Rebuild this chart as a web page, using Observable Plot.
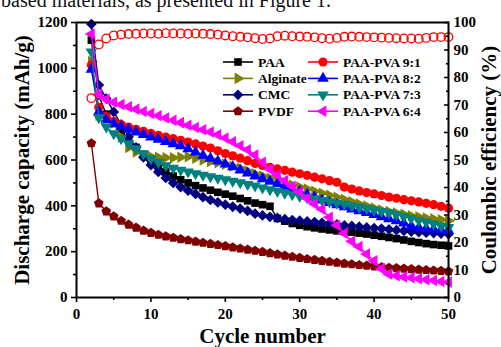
<!DOCTYPE html>
<html><head><meta charset="utf-8">
<script src="https://cdn.jsdelivr.net/npm/d3@7"></script>
<script src="https://cdn.jsdelivr.net/npm/@observablehq/plot@0.6"></script>
<style>
body{margin:0;background:#fff;}
#wrap{position:relative;width:501px;height:347px;overflow:hidden;background:#fff;}
#top{position:absolute;right:170px;top:-10px;font:20px/20px "Liberation Serif",serif;white-space:nowrap;color:#111;}
</style></head><body>
<div id="wrap"><div id="chart"></div><div id="top">based materials, as presented in Figure 1.</div></div>
<script>
const cycles = [2,3,4,5,6,7,8,9,10,11,12,13,14,15,16,17,18,19,20,21,22,23,24,25,26,27,28,29,30,31,32,33,34,35,36,37,38,39,40,41,42,43,44,45,46,47,48,49,50];
const paa = [1123,880,800,760,722,688,655,625,598,572,548,530,514,500,488,478,468,459,451,442,432,422,412,405,398,345,333,323,315,309,304,299,295,291,288,285,281,277,272,267,262,257,251,245,240,235,231,228,225];
const alginate = [1030,795,780,760,700,655,635,622,615,612,610,610,612,614,608,600,594,588,582,573,564,552,540,530,520,510,500,491,482,473,464,455,446,437,428,418,408,399,390,382,375,369,363,357,352,347,343,339,335];
const cmc = [1193,927,868,810,755,702,655,612,578,548,522,500,482,466,452,438,426,415,405,396,388,378,366,358,352,347,342,338,335,332,329,326,322,319,315,312,309,306,303,300,297,294,291,288,285,283,281,279,277];
const pvdf = [673,411,376,354,335,318,305,292,282,274,267,261,255,250,244,239,234,229,224,219,214,209,204,199,194,188,183,178,173,168,164,160,156,152,148,145,142,139,136,133,130,128,126,124,122,120,118,116,114];
const pvaa91 = [1015,830,790,768,755,744,734,725,716,708,700,693,686,678,670,661,652,640,628,618,608,597,585,576,568,561,555,547,540,533,525,518,510,503,482,473,465,458,452,445,438,433,427,422,417,411,405,398,390];
const pvaa82 = [995,810,775,758,745,733,722,711,700,690,680,670,661,648,634,620,607,595,582,570,556,543,530,518,507,496,485,474,463,450,438,425,414,404,395,386,378,370,362,352,343,334,324,312,305,301,298,295,292];
const pvaa73 = [1072,785,745,715,693,672,650,627,606,590,576,565,556,548,541,534,528,521,515,508,501,494,487,479,471,463,456,449,442,436,430,424,418,412,406,400,394,388,382,376,370,362,354,345,337,329,321,313,306];
const pvaa64 = [1150,885,865,852,842,832,822,812,803,793,783,773,763,752,742,732,722,710,696,680,662,645,622,590,560,535,510,485,460,432,408,385,350,315,280,245,222,190,160,125,102,95,90,86,82,78,74,70,67];
const ce91 = [72.5,92,94.2,95.3,95.6,95.8,95.9,96,96,95.9,96.1,96,96,95.9,96,95.9,95.8,95.6,95.3,95,94.8,94.6,94.3,94,94.2,95,95.2,95,94.9,94.8,94.6,94.3,94.1,94.4,94.8,94.9,94.8,94.7,94.6,94.5,94.4,94.3,94.2,94.2,94.1,94.4,94.7,94.7,94.7];

const seriesNames = ["PAA","Alginate","CMC","PVDF","PAA-PVA 9:1","PAA-PVA 8:2","PAA-PVA 7:3","PAA-PVA 6:4"];
const seriesValues = [paa, alginate, cmc, pvdf, pvaa91, pvaa82, pvaa73, pvaa64];
const seriesColors = ["#000000","#808000","#000080","#800000","#ff0000","#0000ff","#008080","#ff00ff"];

const capTicks = [0,200,400,600,800,1000,1200];
const capMinorTicks = [100,300,500,700,900,1100];
const cycleTicks = [0,10,20,30,40,50];
const cycleMinorTicks = [5,15,25,35,45];
const ceTicks = [0,10,20,30,40,50,60,70,80,90,100];
const ceMinorTicks = [5,15,25,35,45,55,65,75,85,95];
const capMax = 1200, ceMax = 100;
const ceToCap = v => v * capMax / ceMax;

const pentagon = {draw(ctx, size){const R=Math.sqrt(size/2.3776);for(let i=0;i<5;i++){const a=-Math.PI/2+i*2*Math.PI/5;const x=R*Math.cos(a),y=R*Math.sin(a);i?ctx.lineTo(x,y):ctx.moveTo(x,y);}ctx.closePath();}};
const markerStyles = [
  {symbol:"square", r:4.3, rotate:0},
  {symbol:"triangle", r:4.3, rotate:90},
  {symbol:"square", r:4.3, rotate:45},
  {symbol:pentagon, r:4.4, rotate:0},
  {symbol:"circle", r:4.6, rotate:0},
  {symbol:"triangle", r:4.3, rotate:0},
  {symbol:"triangle", r:4.3, rotate:180},
  {symbol:"triangle", r:4.3, rotate:-90}
];

const tables = seriesValues.map((arr, k) => cycles.map((c, i) => ({cycle:c, value:arr[i], series:seriesNames[k]})));
const ceTable = cycles.map((c, i) => ({cycle:c, ce:ce91[i]}));

const font = "'Liberation Serif', 'Times New Roman', serif";
const seriesMarks = [];
tables.forEach((t, k) => {
  seriesMarks.push(Plot.line(t, {x:"cycle", y:"value", stroke:seriesColors[k], strokeWidth:1.4}));
  seriesMarks.push(Plot.dot(t, {x:"cycle", y:"value", symbol:markerStyles[k].symbol, r:markerStyles[k].r, rotate:markerStyles[k].rotate, fill:seriesColors[k], stroke:"none"}));
});
const fmt = d => String(d);

const chart = Plot.plot({
  width:501, height:347,
  marginLeft:76, marginRight:53, marginTop:22, marginBottom:50,
  style:{fontFamily:font, fontWeight:"bold", fontSize:"15px", background:"#fff", color:"#000"},
  x:{domain:[0,50]},
  y:{domain:[0,capMax]},
  marks:[
    ...seriesMarks,
    Plot.dot(ceTable, {x:"cycle", y:d=>ceToCap(d.ce), r:4.3, stroke:"#ff0000", strokeWidth:1.3, fill:"none"}),
    Plot.axisY({anchor:"left", ticks:capTicks, tickSize:5, tickPadding:4, tickFormat:fmt, strokeWidth:1.6, label:null, fontSize:15, fontFamily:font, fontWeight:"bold"}),
    Plot.axisY({anchor:"left", ticks:capMinorTicks, tickSize:3, text:null, strokeWidth:1.6, label:null}),
    Plot.axisX({anchor:"bottom", ticks:cycleTicks, tickSize:5, tickPadding:6, tickFormat:fmt, strokeWidth:1.6, label:null, fontSize:15, fontFamily:font, fontWeight:"bold"}),
    Plot.axisX({anchor:"bottom", ticks:cycleMinorTicks, tickSize:3, text:null, strokeWidth:1.6, label:null}),
    Plot.axisY({anchor:"right", ticks:ceTicks.map(ceToCap), tickSize:-5, text:null, strokeWidth:1.6, label:null}),
    Plot.axisY({anchor:"right", ticks:ceMinorTicks.map(ceToCap), tickSize:-3, text:null, strokeWidth:1.6, label:null}),
    Plot.axisY({anchor:"right", ticks:ceTicks.map(ceToCap), tickSize:0, tickPadding:5, tickFormat:d=>String(Math.round(d*ceMax/capMax)), label:null, fontSize:15, fontFamily:font, fontWeight:"bold"}),
    Plot.frame({stroke:"#000", strokeWidth:2}),
    Plot.text(["Cycle number"], {frameAnchor:"bottom", dy:39, fontSize:21, fontWeight:"bold", fontFamily:font, textAnchor:"middle", lineAnchor:"middle"}),
    Plot.text(["Discharge capacity (mAh/g)"], {frameAnchor:"left", dx:-54, rotate:-90, fontSize:21, fontWeight:"bold", fontFamily:font, textAnchor:"middle", lineAnchor:"middle"}),
    Plot.text(["Coulombic efficiency (%)"], {frameAnchor:"right", dx:41, rotate:-90, fontSize:21, fontWeight:"bold", fontFamily:font, textAnchor:"middle", lineAnchor:"middle"})
  ]
});
document.getElementById("chart").appendChild(chart);

// legend (two columns inside the plot area)
const svg = d3.select(chart);
const lg = svg.append("g").attr("font-family", font).attr("font-weight","bold").attr("font-size", 13.5).attr("text-anchor","start");
const legendCols = [223, 308], legendTop = 62, legendStep = 16.4, legendLine = 30;
seriesNames.forEach((name, i) => {
  const col = Math.floor(i/4), row = i % 4;
  const x0 = legendCols[col], y0 = legendTop + row*legendStep;
  const ms = markerStyles[i];
  lg.append("line").attr("x1", x0).attr("x2", x0+legendLine).attr("y1", y0).attr("y2", y0)
    .attr("stroke", seriesColors[i]).attr("stroke-width", 1.6);
  const type = typeof ms.symbol === "string" ? {square:d3.symbolSquare, triangle:d3.symbolTriangle, circle:d3.symbolCircle}[ms.symbol] : ms.symbol;
  lg.append("path").attr("d", d3.symbol(type, Math.PI*ms.r*ms.r)())
    .attr("transform", `translate(${x0+legendLine/2},${y0}) rotate(${ms.rotate})`).attr("fill", seriesColors[i]);
  lg.append("text").attr("x", x0+legendLine+5).attr("y", y0).attr("dy","0.34em").attr("fill","#000").attr("text-anchor","start").text(name);
});
</script>
</body></html>
